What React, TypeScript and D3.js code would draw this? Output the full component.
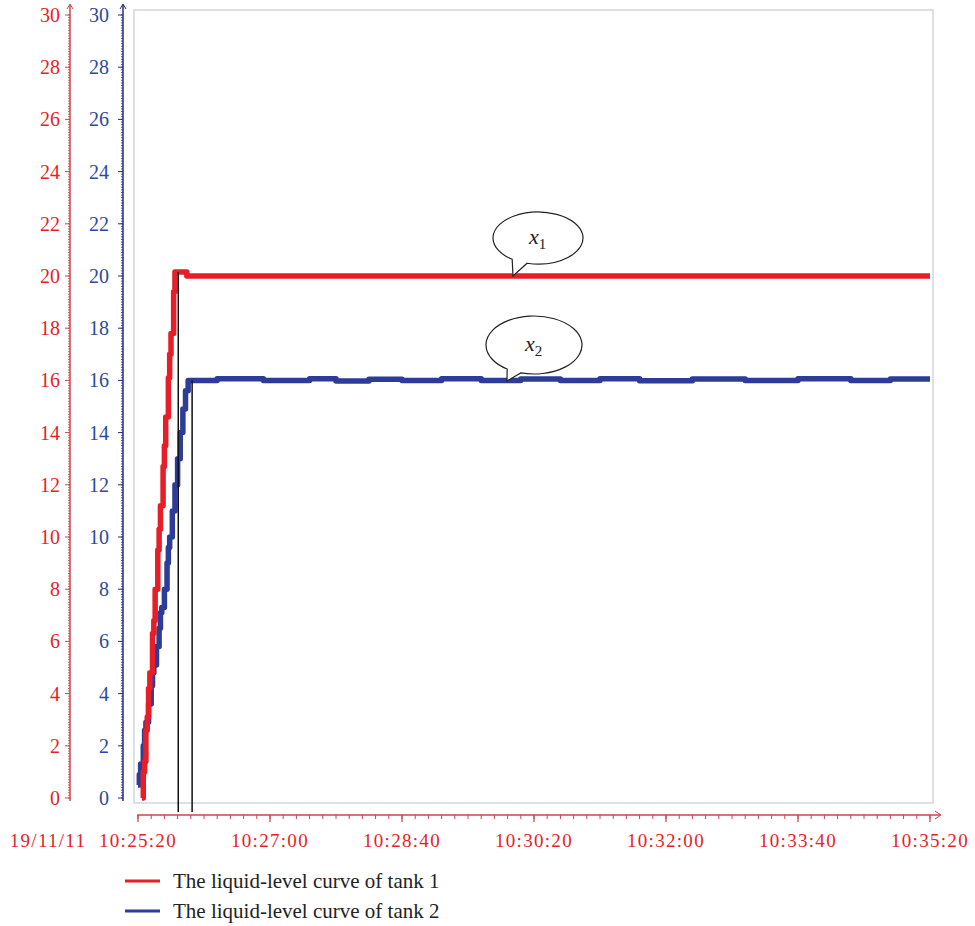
import * as d3 from 'd3';

const W = 975, H = 926;
const FONT = '"Liberation Serif", "DejaVu Serif", serif';
const RED = '#e61e28', BLUE = '#2c3c98';
const RED_AXIS = '#c8464c', BLUE_AXIS = '#2a2a88';

// seconds after 10:25:20
const TIME_LABELS = ['10:25:20', '10:27:00', '10:28:40', '10:30:20', '10:32:00', '10:33:40', '10:35:20'];
const TIME_TICKS = [0, 100, 200, 300, 400, 500, 600];
const Y_TICKS = [0, 2, 4, 6, 8, 10, 12, 14, 16, 18, 20, 22, 24, 26, 28, 30];

// tank 1 (red)
const tank1T = [3, 4, 5, 6, 7, 8, 9, 11, 12, 13, 15, 16, 17, 19, 20, 21, 23, 24, 25, 27, 28, 36, 37, 600];
const tank1V = [0, 1.0, 1.4, 2.6, 3.1, 4.2, 4.8, 6.3, 6.8, 8.0, 9.5, 10.3, 11.2, 12.7, 13.5, 14.6, 16.1, 17.0, 17.8, 19.4, 20.15, 20.15, 20.0, 20.0];
// tank 2 (blue)
const tank2T = [0, 1, 2, 4, 5, 6, 8, 10, 11, 12, 14, 16, 17, 18, 20, 22, 23, 24, 26, 28, 30, 32, 34, 36, 38, 60, 95, 130, 150, 175, 200, 230, 260, 290, 320, 350, 380, 420, 460, 500, 540, 570, 600];
const tank2V = [0.5, 0.9, 1.3, 2.0, 2.6, 2.9, 3.6, 4.3, 4.8, 5.1, 5.8, 6.5, 7.1, 7.3, 8.0, 9.0, 9.6, 10.0, 11.0, 12.0, 13.0, 14.0, 14.9, 15.6, 16.0, 16.06, 16.0, 16.06, 15.98, 16.04, 16.0, 16.06, 16.0, 16.05, 16.0, 16.06, 15.99, 16.05, 16.0, 16.06, 16.0, 16.05, 16.05];

const MARKERS = [30.5, 41];
const MARKER_TOP = [20.15, 16.0];

export default function App() {
  const x = d3.scaleLinear().domain([0, 600]).range([138, 930]);
  const y = d3.scaleLinear().domain([0, 30]).range([798, 15]);
  const line = d3.line<[number, number]>().x(d => x(d[0])).y(d => y(d[1])).curve(d3.curveStepAfter);
  const red = line(tank1T.map((t, i) => [t, tank1V[i]]) as [number, number][]) || '';
  const blue = line(tank2T.map((t, i) => [t, tank2V[i]]) as [number, number][]) || '';
  const minorY = d3.range(0, 30.001, 0.1);
  const minorX = d3.range(0, 601, 10);
  const axisY = 815;

  const yAxis = (ax: number, color: string, txt: string, lx: number) => (
    <g>
      <line x1={ax} x2={ax} y1={5} y2={y(0) + 3} stroke={color} strokeWidth={1.5} />
      <path d={`M${ax - 3},${9} L${ax},${4} L${ax + 3},${9}`} fill="none" stroke={color} strokeWidth={1} />
      {minorY.map((v, i) => <line key={'m' + i} x1={ax - 2} x2={ax} y1={y(v)} y2={y(v)} stroke={color} strokeWidth={0.8} />)}
      {Y_TICKS.map(v => <g key={v}>
        <line x1={ax - 5} x2={ax} y1={y(v)} y2={y(v)} stroke={color} strokeWidth={1} />
        <text x={lx} y={y(v) + 7} textAnchor="end" fill={txt} fontSize={20} fontFamily={FONT}>{v}</text>
      </g>)}
    </g>
  );

  const bubble = (cx: number, cy: number, rx: number, ry: number, aL: number, aR: number, tip: [number, number], sub: string) => {
    const pL = [cx + rx * Math.cos(aL * Math.PI / 180), cy + ry * Math.sin(aL * Math.PI / 180)];
    const pR = [cx + rx * Math.cos(aR * Math.PI / 180), cy + ry * Math.sin(aR * Math.PI / 180)];
    const d = `M${pL[0]},${pL[1]} L${tip[0]},${tip[1]} L${pR[0]},${pR[1]} A${rx},${ry} 0 1 0 ${pL[0]},${pL[1]} Z`;
    return <g>
      <path d={d} fill="#fff" stroke="#222" strokeWidth={1.2} />
      <text x={cx - 9} y={cy + 6} fontFamily={FONT} fontSize={22} fontStyle="italic" fill="#222">x<tspan fontStyle="normal" fontSize={15} dy={5}>{sub}</tspan></text>
    </g>;
  };

  return (
    <svg width={W} height={H} style={{ position: 'absolute', left: 0, top: 0, background: '#fff' }}>
      <rect x={134} y={10} width={799} height={793} fill="#fff" stroke="#c6ccd8" strokeWidth={1.2} />
      {yAxis(70, RED_AXIS, RED, 60)}
      {yAxis(123, BLUE_AXIS, '#2d4aa0', 109)}

      <path d={blue} fill="none" stroke={BLUE} strokeWidth={5.5} strokeLinejoin="round" />
      <path d={red} fill="none" stroke={RED} strokeWidth={5.5} strokeLinejoin="round" />
      {MARKERS.map((t, i) => <line key={t} x1={x(t)} x2={x(t)} y1={y(MARKER_TOP[i])} y2={812} stroke="#111" strokeWidth={1.5} />)}

      {bubble(538, 238, 45, 26, 125, 104, [513, 276], '1')}
      {bubble(534, 345, 48, 29, 124, 106, [507, 381], '2')}

      <line x1={137} x2={940} y1={axisY} y2={axisY} stroke={RED_AXIS} strokeWidth={1.5} />
      <path d={`M${935},${axisY - 4} L${941},${axisY} L${935},${axisY + 4}`} fill="none" stroke={RED_AXIS} strokeWidth={1} />
      {minorX.map(t => <line key={'mx' + t} x1={x(t)} x2={x(t)} y1={axisY} y2={axisY + 4} stroke={RED_AXIS} strokeWidth={1} />)}
      {TIME_TICKS.map((t, i) => <g key={t}>
        <line x1={x(t)} x2={x(t)} y1={axisY} y2={axisY + 7} stroke={RED_AXIS} strokeWidth={1.2} />
        <text x={x(t)} y={847} textAnchor="middle" fill={RED} fontSize={19} letterSpacing={1.3} fontFamily={FONT}>{TIME_LABELS[i]}</text>
      </g>)}
      <text x={48} y={847} textAnchor="middle" fill={RED} fontSize={19} letterSpacing={1.3} fontFamily={FONT}>19/11/11</text>

      <line x1={125} x2={160} y1={881} y2={881} stroke={RED} strokeWidth={3} />
      <text x={173} y={888} fill="#222" fontSize={21} fontFamily={FONT}>The liquid-level curve of tank 1</text>
      <line x1={125} x2={160} y1={911} y2={911} stroke={BLUE} strokeWidth={3} />
      <text x={173} y={918} fill="#222" fontSize={21} fontFamily={FONT}>The liquid-level curve of tank 2</text>
    </svg>
  );
}
